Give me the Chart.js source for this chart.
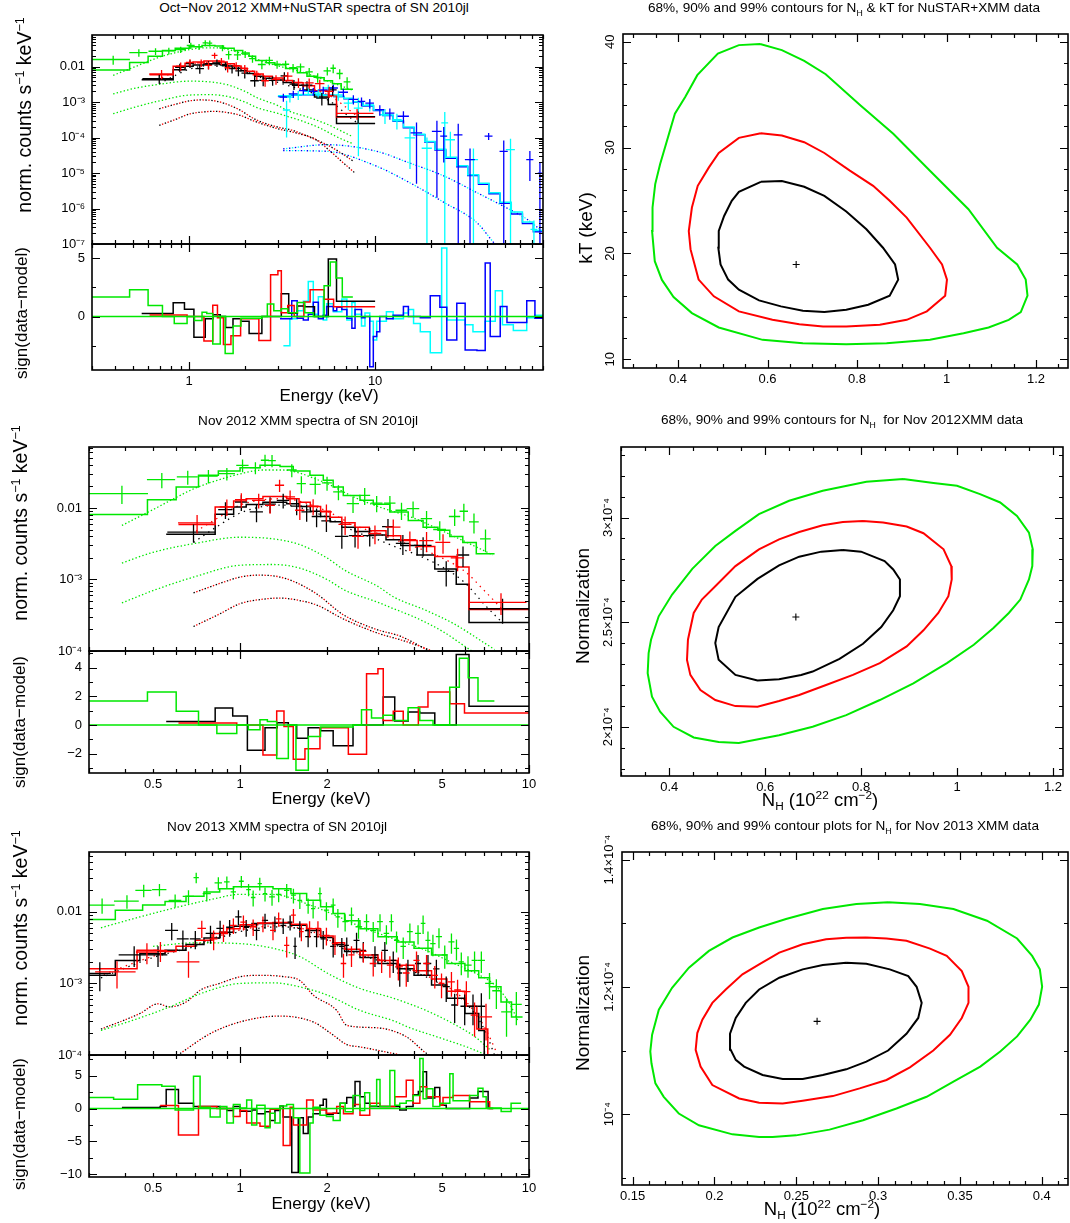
<!DOCTYPE html>
<html>
<head>
<meta charset="utf-8">
<script src="https://cdn.jsdelivr.net/npm/chart.js@4.4.1/dist/chart.umd.min.js"></script>
<style>
  body { margin: 0; background: #fff; width: 1070px; height: 1223px; position: relative; overflow: hidden;
         font-family: "Liberation Sans", Arial, Helvetica, sans-serif; color: #000; }
  canvas { position: absolute; }
  .lbl { position: absolute; white-space: nowrap; line-height: 1; z-index: 5; }
  .lbl sub, .lbl sup { font-size: 64%; line-height: 0; }
</style>
</head>
<body>
<script>
// ---------- colours ----------
const BLACK = '#000000', RED = '#ff0000', GREEN = '#00e800', BLUE = '#0000ff', CYAN = '#00ffff';
const FONT = '"Liberation Sans", Arial, Helvetica, sans-serif';

// ---------- XMM Nov 2012 (used in top and middle spectra) ----------
// data points: [E, halfwidth, counts, error]
const x12Green = [[0.39,0.09,0.0159,0.0045],[0.536,0.06,0.0249,0.006],[0.659,0.055,0.0272,0.006],[0.777,0.06,0.028,0.006],
  [0.90,0.06,0.0302,0.006],[1.02,0.05,0.0395,0.008],[1.13,0.05,0.0366,0.007],[1.22,0.04,0.0465,0.009],[1.29,0.04,0.046,0.009],
  [1.51,0.06,0.034,0.007],[1.63,0.06,0.0219,0.006],[1.82,0.08,0.0214,0.006],[2.0,0.08,0.0224,0.005],[2.19,0.09,0.0168,0.004],
  [2.46,0.12,0.0115,0.003],[2.70,0.12,0.015,0.004],[2.97,0.14,0.0117,0.003],[3.3,0.15,0.0117,0.003],[3.62,0.17,0.0093,0.0025],
  [3.97,0.2,0.0098,0.0025],[4.42,0.2,0.0071,0.002],[4.91,0.25,0.005,0.0015],[5.53,0.25,0.0076,0.002],[5.95,0.2,0.009,0.0025],
  [6.45,0.25,0.0064,0.002],[7.07,0.3,0.0037,0.0013]];
const x12Black = [[0.69,0.13,0.0046,0.0013],[0.89,0.05,0.0095,0.0025],[1.01,0.05,0.0121,0.003],[1.14,0.06,0.0088,0.0025],
  [1.27,0.06,0.0113,0.0028],[1.41,0.07,0.0128,0.003],[1.57,0.07,0.0106,0.0027],[1.70,0.07,0.0088,0.0024],[1.84,0.07,0.0076,0.0022],
  [1.99,0.08,0.0066,0.002],[2.25,0.12,0.004,0.0013],[2.50,0.12,0.0041,0.0013],[2.81,0.15,0.0041,0.0012],[3.25,0.15,0.0055,0.0015],
  [3.66,0.2,0.0032,0.001],[4.30,0.3,0.003,0.0009],[5.17,0.35,0.0013,0.0005],[5.91,0.3,0.0022,0.0007],[8.1,1.9,0.00039,0.00015]];
const x12Red = [[0.71,0.1,0.0062,0.0018],[0.90,0.05,0.0104,0.0027],[1.01,0.05,0.0131,0.003],[1.16,0.06,0.0128,0.003],
  [1.27,0.05,0.0109,0.0026],[1.37,0.05,0.0208,0.004],[1.49,0.06,0.0143,0.0032],[1.61,0.06,0.0093,0.0025],[1.79,0.08,0.0106,0.0027],
  [1.99,0.09,0.0088,0.0024],[2.31,0.12,0.0059,0.0017],[2.56,0.12,0.004,0.0013],[2.93,0.15,0.0044,0.0013],[3.39,0.2,0.0054,0.0015],
  [3.87,0.2,0.0036,0.0011],[4.42,0.25,0.0035,0.0011],[5.04,0.3,0.0033,0.001],[5.66,0.3,0.002,0.0007],[8.0,1.8,0.00048,0.00016]];
// model histograms: [bin start, value] ... [last edge]
const x12GreenModel = [[0.3,0.0081],[0.478,0.013],[0.601,0.0197],[0.718,0.0287],[0.841,0.033],[1.0,0.0366],[1.172,0.0395],
  [1.375,0.038],[1.528,0.033],[1.745,0.0287],[1.941,0.0244],[2.1,0.0197],[2.276,0.015],[2.6,0.0128],[2.89,0.0113],[3.3,0.0088],
  [3.82,0.0067],[4.3,0.0054],[4.84,0.0049],[5.32,0.004],[5.9,0.0033],[6.57,0.0023],[7.6]];
const x12BlackModel = [[0.555,0.0043],[0.82,0.0082],[0.95,0.0103],[1.05,0.0112],[1.2,0.012],[1.45,0.0115],[1.6,0.0105],
  [1.75,0.009],[1.9,0.0076],[2.05,0.0064],[2.25,0.0054],[2.5,0.0047],[2.8,0.0042],[3.2,0.0036],[3.6,0.003],[4.1,0.0022],
  [4.72,0.0014],[5.6,0.00086],[6.2,0.00025],[10]];
const x12RedModel = [[0.612,0.0059],[0.82,0.0103],[0.95,0.0125],[1.05,0.0135],[1.2,0.0145],[1.45,0.0135],[1.6,0.012],
  [1.75,0.0105],[1.9,0.009],[2.05,0.0074],[2.25,0.0062],[2.5,0.0054],[2.8,0.0048],[3.2,0.0041],[3.6,0.0035],[4.1,0.0029],
  [4.72,0.0021],[5.6,0.0015],[6.2,0.00038],[10]];
// model components: [E, value]
const x12GreenComp1 = [[0.39,0.0057],[0.5,0.0095],[0.6,0.014],[0.7,0.019],[0.85,0.025],[1.0,0.030],[1.2,0.034],[1.4,0.034],
  [1.6,0.031],[1.8,0.026],[2.0,0.022],[2.5,0.014],[3.0,0.0105],[4.0,0.0072],[5.0,0.0048],[6.0,0.0034],[7.5,0.0022]];
const x12GreenComp2 = [[0.39,0.0017],[0.5,0.0024],[0.7,0.0032],[1.0,0.0039],[1.3,0.0037],[1.6,0.0031],[2.0,0.002],[2.3,0.00135],
  [3.0,0.0008],[3.4,0.00057],[4.4,0.00037],[5.5,0.00024],[7.0,0.00013],[7.6,0.000105]];
const x12GreenComp3 = [[0.39,0.00047],[0.5,0.0007],[0.7,0.0011],[1.0,0.00158],[1.3,0.00162],[1.6,0.00145],[2.0,0.001],
  [2.3,0.00071],[3.0,0.00048],[3.4,0.00039],[4.0,0.0003],[5.0,0.00019],[6.4,0.000098],[7.6,0.000067]];
const x12BlackMain = [[0.69,0.0033],[0.85,0.0058],[1.0,0.0085],[1.2,0.0105],[1.4,0.011],[1.6,0.0102],[2.0,0.0074],[2.5,0.0047],
  [3.0,0.0036],[3.5,0.0028],[4.0,0.0023],[5.0,0.0015],[6.0,0.0009],[7.0,0.00045],[8.0,0.00026]];
const x12RedMain = [[0.69,0.0045],[0.85,0.0075],[1.0,0.011],[1.2,0.013],[1.4,0.0135],[1.6,0.0125],[2.0,0.009],[2.5,0.0057],
  [3.0,0.0044],[3.5,0.0035],[4.0,0.0029],[5.0,0.002],[6.0,0.0013],[7.0,0.0007],[8.0,0.0004]];
const x12CompHot = [[0.69,0.00065],[0.85,0.00088],[1.0,0.00108],[1.15,0.00115],[1.35,0.0011],[1.55,0.00092],[1.84,0.00063],
  [2.28,0.00032],[2.97,0.0002],[3.6,0.00016],[4.5,0.0001],[5.5,0.000063],[6.5,0.000038],[7.6,0.000022]];
const x12CompCool = [[0.69,0.00022],[0.85,0.00033],[1.0,0.00046],[1.2,0.00053],[1.37,0.00055],[1.6,0.00051],[1.84,0.00044],
  [2.28,0.00028],[2.97,0.00018],[3.87,0.00013],[4.78,0.00009],[5.5,0.00005],[6.5,0.000023],[7.8,0.00001]];
// residual histograms: [bin start, sign(data-model)] ... [last edge]
const r12Green = [[0.3,1.67],[0.478,2.3],[0.601,0.95],[0.718,0],[0.831,-0.6],[0.974,0],[1.068,-0.33],[1.172,0.37],[1.243,0.25],
  [1.339,-2.34],[1.469,0],[1.561,-3.15],[1.723,-0.8],[1.899,-0.14],[2.463,0],[2.632,1.07],[2.851,0.49],[3.127,0.67],[3.387,0.32],
  [3.816,1.2],[4.187,0.32],[4.655,0],[5.316,2.64],[5.74,4.66],[6.16,3.3],[6.66,1.67],[7.59]];
const r12Black = [[0.555,0.25],[0.82,1.18],[0.943,0.63],[1.06,-1.76],[1.22,-0.2],[1.345,0.15],[1.469,0],[1.57,-0.93],[1.72,-0.2],
  [1.9,-0.4],[2.1,-1.45],[2.46,0],[3.13,1.95],[3.43,0.28],[3.82,0.9],[4.19,0.84],[4.72,0],[5.6,4.92],[6.2,1.3],[10]];
const r12Red = [[0.612,0.14],[0.974,0],[1.2,-2.1],[1.339,0.97],[1.419,-0.1],[1.528,-2.39],[1.677,-1.65],[1.89,-0.2],[2.37,-2.04],
  [2.74,3.57],[3.0,3.92],[3.13,0.32],[3.39,0.95],[3.67,0],[4.14,1.25],[4.47,2.3],[5.32,1.48],[5.98,0.84],[10]];

// ---------- NuSTAR Oct 2012 ----------
const nuBlue = [[3.21,0.15,0.00138,0.00035],[3.63,0.2,0.0017,0.0004],[4.11,0.22,0.0021,0.0005],[4.65,0.25,0.002,0.0005],
  [5.26,0.3,0.0022,0.0005],[5.96,0.35,0.0025,0.0006],[6.75,0.4,0.0019,0.0005],[7.64,0.45,0.0012,0.00035],[8.45,0.4,0.00105,0.0003],
  [9.36,0.5,0.00094,0.00028],[10.6,0.6,0.00061,0.0002],[12.0,0.7,0.00049,0.00017],[14.2,1.0,0.0004,0.00015],[16.7,1.2,0.000135,0.00013],
  [21.5,1.3,0.00015,0.000148],[23.4,1.0,0.00011,0.00009],[28.0,1.5,0.00012,0.000125],[32.4,2.0,0.000024,0.000025],
  [40.8,2.0,0.00011,0.000025],[49.2,2.5,0.000041,0.000042],[68,3,0.000024,0.000018],[77,2,0.00001,0.0000105]];
const nuCyan = [[3.34,0.15,0.0006,0.0005],[3.48,0.15,0.00138,0.0004],[3.86,0.2,0.0016,0.00045],[4.37,0.25,0.002,0.0005],
  [4.94,0.3,0.0018,0.0005],[5.6,0.3,0.0025,0.0006],[6.34,0.35,0.0016,0.0005],[7.18,0.4,0.00094,0.00035],[8.13,0.45,0.00068,0.00065],
  [9.36,0.5,0.00084,0.0003],[11.3,0.7,0.00044,0.0002],[13.1,0.8,0.00032,0.00015],[15.4,1.0,0.000098,0.000085],
  [19.0,1.2,0.00005,0.000051],[23.7,1.0,0.00026,0.00027],[25.4,1.5,0.000087,0.00006],[33.8,2.0,0.000024,0.000025],
  [53.5,3.0,0.000046,0.000047],[71.5,3.0,0.00000026,0.0000002]];
const nuBlueModel = [[3,1.45e-3],[3.5,1.55e-3],[4,1.6e-3],[4.6,1.6e-3],[5.3,1.55e-3],[6,1.45e-3],[6.8,1.25e-3],[7.6,1.0e-3],
  [8.6,7.8e-4],[9.8,5.8e-4],[11,4.2e-4],[12.5,2.9e-4],[14.2,1.9e-4],[16.2,1.2e-4],[18.5,7.5e-5],[21,4.5e-5],[24,2.6e-5],
  [27.5,1.5e-5],[31.5,8.5e-6],[36,4.8e-6],[41,2.6e-6],[47,1.4e-6],[54,7e-7],[62,3.8e-7],[71,2.2e-7],[79]];
const nuCyanModel = [[3,1.5e-3],[3.5,1.6e-3],[4,1.65e-3],[4.6,1.62e-3],[5.3,1.55e-3],[6,1.45e-3],[6.8,1.28e-3],[7.6,1.02e-3],
  [8.6,8e-4],[9.8,6e-4],[11,4.3e-4],[12.5,3e-4],[14.2,2e-4],[16.2,1.25e-4],[18.5,7.8e-5],[21,4.7e-5],[24,2.8e-5],
  [27.5,1.6e-5],[31.5,9e-6],[36,5.2e-6],[41,2.8e-6],[47,1.5e-6],[54,8e-7],[62,4.2e-7],[71,2.4e-7],[79]];
const nuCompA = [[3.2,4.8e-5],[5.5,6.3e-5],[10.2,4.1e-5],[15.4,1.9e-5],[23.4,8.3e-6],[35.3,2.8e-6],[50,1.1e-6],[65.6,5e-7],[79,2.3e-7]];
const nuCompB = [[3.2,4.3e-5],[5.5,4.1e-5],[10.2,1.55e-5],[15.4,5.3e-6],[23.4,1.5e-6],[35.3,4e-7],[43.4,1.1e-7],[50,5e-8]];
const rNuBlue = [[3.08,-0.2],[3.56,1.34],[3.81,-0.15],[4.11,-0.3],[4.37,0.2],[4.65,1.23],[4.95,-0.2],[5.26,0.1],[5.49,0.86],
  [5.96,0.5],[6.22,0.8],[6.62,0.6],[7.05,-0.15],[7.5,-1.0],[7.8,0.6],[8.45,-0.1],[8.82,0],[9.36,-4.3],[9.78,-1.7],[10.2,-1.3],
  [10.6,0],[11.5,-0.2],[12.5,0.1],[14.2,0.86],[15.1,0],[17.5,-0.1],[19.8,1.77],[22.3,0.8],[24.3,-2.0],[27.5,1.14],[30.5,-2.86],
  [35.3,-2.91],[39.1,4.57],[41.6,-1.7],[47.1,0.86],[51.2,-0.5],[55.4,-0.5],[65.4,1.34],[72.4,-0.15],[80]];
const rNuCyan = [[3.21,-2.5],[3.48,-0.2],[3.81,0.5],[4.11,1.3],[4.37,3.0],[4.65,0.2],[4.95,1.7],[5.26,-0.3],[5.49,1.1],[5.96,0.4],
  [6.62,1.5],[7.05,-0.3],[7.5,1.2],[7.8,0.2],[8.45,-0.8],[8.82,0.3],[9.36,-0.4],[9.78,-2.0],[10.2,-0.4],[11.5,0.4],[12.5,-0.2],
  [14.2,0.3],[15.1,0.6],[16.1,-0.6],[17.5,-1.3],[19.8,-3.1],[22.8,5.86],[24.3,-0.3],[30.5,-0.7],[33.6,-1.3],[39,-0.4],[44.3,2.2],
  [48.4,-0.7],[55.4,-1.2],[65.4,-0.1],[72.4,0.1],[80]];

// ---------- XMM Nov 2013 ----------
const x13Green = [[0.333,0.035,0.0124,0.003],[0.406,0.04,0.0141,0.003],[0.464,0.03,0.02,0.004],[0.526,0.03,0.0205,0.004],
  [0.596,0.03,0.0145,0.003],[0.663,0.03,0.0165,0.0035],[0.705,0.015,0.0301,0.005],[0.767,0.025,0.018,0.004],[0.841,0.025,0.0254,0.005],
  [0.90,0.02,0.0262,0.005],[0.948,0.02,0.019,0.004],[1.01,0.02,0.0268,0.005],[1.07,0.02,0.0205,0.004],[1.11,0.02,0.0159,0.004],
  [1.17,0.02,0.0249,0.005],[1.22,0.02,0.018,0.004],[1.29,0.03,0.0162,0.004],[1.36,0.03,0.0176,0.004],[1.45,0.03,0.02,0.0045],
  [1.53,0.03,0.0171,0.004],[1.61,0.03,0.0145,0.0035],[1.72,0.03,0.0124,0.003],[1.79,0.03,0.0111,0.003],[1.89,0.03,0.018,0.004],
  [1.99,0.04,0.0106,0.003],[2.10,0.04,0.0124,0.003],[2.18,0.04,0.0085,0.0025],[2.31,0.05,0.0073,0.002],[2.43,0.05,0.009,0.0025],
  [2.57,0.06,0.0062,0.002],[2.74,0.06,0.0073,0.002],[2.89,0.07,0.0055,0.0017],[3.05,0.07,0.0073,0.002],[3.21,0.07,0.005,0.0015],
  [3.34,0.06,0.0073,0.002],[3.48,0.07,0.004,0.0013],[3.67,0.08,0.0033,0.0011],[3.87,0.09,0.0053,0.0016],[4.13,0.1,0.005,0.0015],
  [4.30,0.08,0.0069,0.002],[4.47,0.09,0.004,0.0013],[4.65,0.1,0.0036,0.0012],[4.88,0.12,0.0045,0.0014],[5.11,0.12,0.0025,0.0009],
  [5.39,0.13,0.0038,0.0012],[5.61,0.12,0.0031,0.001],[5.83,0.12,0.002,0.0007],[6.15,0.18,0.0018,0.0006],[6.48,0.15,0.0021,0.0007],
  [6.84,0.2,0.0021,0.0007],[7.30,0.25,0.001,0.0004],[7.71,0.25,0.00079,0.00035],[8.36,0.35,0.0004,0.00022],[9.04,0.4,0.00051,0.00025]];
const x13Black = [[0.327,0.03,0.00138,0.0006],[0.43,0.05,0.0025,0.0008],[0.52,0.04,0.0025,0.0008],[0.58,0.03,0.0055,0.0015],
  [0.634,0.03,0.0042,0.0013],[0.70,0.03,0.0042,0.0012],[0.79,0.03,0.005,0.0014],[0.853,0.025,0.0059,0.0016],[0.92,0.025,0.0061,0.0016],
  [0.987,0.025,0.0085,0.002],[1.05,0.025,0.0061,0.0016],[1.14,0.03,0.0055,0.0015],[1.22,0.03,0.0076,0.0018],[1.32,0.03,0.0069,0.0017],
  [1.41,0.03,0.0065,0.0016],[1.49,0.03,0.0072,0.0017],[1.55,0.02,0.0033,0.0011],[1.61,0.03,0.0059,0.0015],[1.72,0.04,0.0045,0.0013],
  [1.84,0.04,0.0045,0.0013],[1.94,0.04,0.0042,0.0012],[2.10,0.05,0.0033,0.001],[2.25,0.05,0.0033,0.001],[2.34,0.04,0.0034,0.001],
  [2.53,0.06,0.004,0.0011],[2.67,0.06,0.0029,0.0009],[2.93,0.08,0.0025,0.0008],[3.17,0.08,0.0029,0.0009],[3.39,0.08,0.0021,0.0007],
  [3.57,0.07,0.0014,0.0005],[3.81,0.09,0.0016,0.00055],[4.13,0.1,0.0019,0.0006],[4.47,0.12,0.0019,0.0006],[4.78,0.12,0.0016,0.00055],
  [5.17,0.15,0.0009,0.00035],[5.53,0.15,0.0005,0.00022],[5.99,0.2,0.00048,0.00022],[6.4,0.2,0.00048,0.00022],[6.84,0.22,0.00048,0.00025]];
const x13Red = [[0.375,0.06,0.00145,0.0006],[0.476,0.04,0.00275,0.0009],[0.53,0.03,0.0029,0.0009],[0.663,0.06,0.002,0.0008],
  [0.737,0.025,0.0059,0.0016],[0.81,0.025,0.0042,0.0013],[0.876,0.025,0.0052,0.0014],[0.948,0.025,0.0065,0.0016],[1.027,0.025,0.0072,0.0017],
  [1.11,0.03,0.0062,0.0016],[1.20,0.03,0.0069,0.0017],[1.30,0.03,0.0055,0.0015],[1.36,0.03,0.008,0.0018],[1.45,0.03,0.0034,0.0011],
  [1.53,0.03,0.009,0.002],[1.63,0.03,0.0053,0.0014],[1.74,0.04,0.0059,0.0015],[1.86,0.04,0.0059,0.0015],[1.99,0.05,0.0047,0.0013],
  [2.13,0.05,0.0036,0.0011],[2.28,0.05,0.0019,0.0007],[2.43,0.06,0.0025,0.0008],[2.67,0.07,0.0028,0.00085],[2.89,0.08,0.0019,0.00065],
  [3.09,0.08,0.0021,0.0007],[3.3,0.08,0.0018,0.0006],[3.53,0.09,0.0017,0.0006],[3.76,0.1,0.0014,0.0005],[4.08,0.1,0.0021,0.0007],
  [4.42,0.12,0.0019,0.0006],[4.72,0.12,0.0013,0.00045],[4.98,0.12,0.001,0.00038],[5.39,0.15,0.00105,0.0004],[5.66,0.15,0.00081,0.00032],
  [6.07,0.2,0.00077,0.0003],[6.48,0.2,0.00036,0.00018],[7.1,0.35,0.00034,0.00018]];
const x13GreenModel = [[0.3,0.0078],[0.37,0.0105],[0.46,0.0125],[0.55,0.014],[0.65,0.0165],[0.75,0.019],[0.85,0.021],[0.95,0.0225],
  [1.1,0.0225],[1.3,0.021],[1.5,0.018],[1.7,0.0145],[1.9,0.0118],[2.1,0.0095],[2.3,0.0075],[2.6,0.0058],[3.0,0.0045],[3.5,0.0038],
  [4.0,0.0031],[4.6,0.0025],[5.2,0.0019],[6.0,0.0015],[6.7,0.0012],[7.3,0.0009],[8.0,0.00055],[8.7,0.00034],[9.5]];
const x13BlackModel = [[0.3,0.0013],[0.37,0.0021],[0.45,0.0026],[0.55,0.0029],[0.65,0.0035],[0.75,0.0043],[0.85,0.0052],[0.95,0.0063],
  [1.1,0.0069],[1.3,0.007],[1.5,0.0065],[1.7,0.0055],[1.9,0.0044],[2.1,0.0035],[2.3,0.0028],[2.6,0.0023],[3.0,0.0019],[3.5,0.0016],
  [4.0,0.0013],[4.6,0.00095],[5.2,0.00062],[6.0,0.00038],[6.7,0.00022],[7.0,0.00008],[7.3]];
const x13RedModel = [[0.3,0.0016],[0.44,0.0029],[0.52,0.0028],[0.6,0.0033],[0.7,0.004],[0.8,0.005],[0.9,0.0058],[1.0,0.0066],
  [1.15,0.007],[1.3,0.0071],[1.5,0.0067],[1.7,0.0058],[1.9,0.0046],[2.1,0.0037],[2.3,0.003],[2.6,0.0025],[3.0,0.0021],[3.5,0.0018],
  [4.0,0.0015],[4.6,0.00115],[5.2,0.00078],[6.0,0.00048],[6.6,0.00023],[7.2,0.00008],[7.6]];
const x13GreenComp1 = [[0.33,0.006],[0.45,0.0085],[0.6,0.0115],[0.8,0.015],[1.0,0.0176],[1.3,0.0175],[1.79,0.012],[2.2,0.0085],
  [2.6,0.0063],[3.4,0.0042],[4.4,0.0029],[5.5,0.0019],[6.5,0.0014],[7.5,0.001],[8.5,0.00055],[9.2,0.00029]];
const x13GreenComp2 = [[0.5,0.0033],[0.7,0.0037],[1.0,0.0036],[1.3,0.0031],[1.6,0.0024],[2.0,0.0014],[2.3,0.00105],[2.6,0.00085],
  [3.4,0.00062],[4.4,0.00042],[5.5,0.00027],[6.5,0.00018],[7.3,0.00012]];
const x13GreenComp3 = [[0.33,0.00022],[0.45,0.00033],[0.57,0.00047],[0.75,0.00075],[1.0,0.001],[1.3,0.00102],[1.6,0.0009],[2.0,0.00069],
  [2.6,0.00042],[3.4,0.0003],[3.87,0.00024],[5.0,0.00017],[6.4,0.00012],[7.5,0.00009]];
const x13BlackMain = [[0.33,0.0012],[0.5,0.0023],[0.7,0.0033],[1.0,0.0053],[1.4,0.0062],[1.8,0.005],[2.3,0.003],[3.0,0.0021],
  [4.0,0.00145],[5.0,0.00095],[6.0,0.00055],[7.0,0.00023],[7.6,0.0001]];
const x13RedMain = [[0.33,0.0013],[0.5,0.0024],[0.7,0.0035],[1.0,0.0056],[1.4,0.0064],[1.8,0.0052],[2.3,0.0031],[3.0,0.0022],
  [4.0,0.0015],[5.0,0.001],[6.0,0.00058],[7.0,0.00025],[7.8,0.0001]];
const x13CompHot = [[0.33,0.00023],[0.45,0.00038],[0.52,0.00052],[0.57,0.00047],[0.65,0.00055],[0.73,0.00081],[0.85,0.001],
  [1.0,0.00124],[1.17,0.0013],[1.4,0.00125],[1.61,0.0011],[1.79,0.00069],[2.16,0.00042],[2.34,0.00026],[2.97,0.00024],
  [3.76,0.00018],[4.42,0.000105],[5.0,0.00008]];
const x13CompCool = [[0.62,0.000105],[0.79,0.0002],[1.0,0.00029],[1.37,0.00035],[1.79,0.00029],[2.1,0.00019],[2.34,0.00014],
  [2.6,0.00013],[3.39,0.000105],[4.42,0.000085]];
const r13Green = [[0.3,1.7],[0.365,1.4],[0.442,3.6],[0.536,3.4],[0.596,-0.2],[0.69,4.9],[0.727,0.2],[0.788,-1.3],[0.853,0.3],
  [0.9,-2.2],[0.948,0.6],[1.0,0.1],[1.054,1.3],[1.097,-2.5],[1.142,0.5],[1.22,-2.9],[1.27,-0.7],[1.32,-2.2],[1.375,0.4],[1.45,0.6],
  [1.53,-1.4],[1.61,-9.8],[1.745,-2.2],[1.79,0.2],[1.89,-1.0],[1.99,-1.2],[2.1,-1.8],[2.22,0.8],[2.31,-0.5],[2.46,2.0],[2.6,-0.3],
  [2.7,2.4],[2.81,0.4],[2.97,4.4],[3.05,0.3],[3.3,5.8],[3.43,0.5],[3.57,0.8],[3.76,1.2],[3.97,2.0],[4.19,7.6],[4.3,1.5],[4.42,3.0],
  [4.65,0.3],[4.91,0.8],[5.32,5.3],[5.46,1.2],[6.23,2.0],[6.66,3.1],[6.93,1.8],[7.11,0.1],[8.01,-0.45],[8.67,0.8],[9.39]];
const r13Black = [[0.39,0.15],[0.529,0.3],[0.555,2.9],[0.612,0.8],[0.69,0.3],[0.853,0],[0.9,-0.3],[0.948,0.3],[1.0,-0.4],
  [1.097,-0.2],[1.142,-0.8],[1.22,-0.5],[1.27,-1.8],[1.32,-0.3],[1.375,0.4],[1.41,-1.3],[1.51,-9.7],[1.59,-1.4],[1.655,-3.8],
  [1.72,-1.3],[1.79,-0.8],[1.89,0.5],[1.94,1.4],[1.99,-0.9],[2.1,-0.7],[2.22,0.8],[2.34,1.7],[2.46,0.4],[2.5,4.1],[2.6,1.8],
  [2.7,0.8],[2.81,0.3],[3.57,-0.2],[3.76,0.3],[3.97,2.1],[4.14,2.6],[4.3,5.6],[4.42,1.6],[4.72,3.2],[4.91,0.5],[5.17,0],
  [6.23,1.6],[6.66,2.6],[7.22,0],[7.52]];
const r13Red = [[0.529,0.45],[0.612,-4.0],[0.718,0.3],[0.831,0],[0.948,-1.2],[1.0,-0.3],[1.054,-2.2],[1.172,-2.7],[1.27,-0.1],
  [1.375,0],[1.41,-5.6],[1.49,0.2],[1.53,-2.5],[1.7,1.3],[1.79,-0.2],[1.99,-0.7],[2.16,0.3],[2.28,-0.8],[2.46,0.6],[2.6,-1.0],
  [2.81,0.8],[3.05,0.3],[3.43,1.8],[3.76,4.3],[3.97,0.8],[4.19,3.3],[4.42,1.8],[4.91,0.5],[5.04,1.7],[5.46,2.0],[6.23,1.05],
  [7.31,0],[7.52]];

// ---------- confidence contours: [NH, parameter] ----------
const c1Green = [[0.5835,39.78],[0.632,39.21],[0.682,38.2],[0.73,36.93],[0.806,34.05],[0.881,31.3],[0.963,27.82],[1.049,24.18],
  [1.113,20.54],[1.158,18.96],[1.177,17.53],[1.181,16.01],[1.166,14.46],[1.139,13.73],[1.094,13.01],[1.038,12.47],[0.963,11.84],
  [0.866,11.52],[0.776,11.42],[0.679,11.52],[0.589,11.84],[0.491,13.01],[0.431,14.37],[0.39,15.89],[0.364,17.5],[0.348,19.27],
  [0.342,22.12],[0.343,24.34],[0.349,26.55],[0.36,28.45],[0.393,33.2],[0.416,34.78],[0.443,36.84],[0.489,38.89],[0.536,39.68]];
const c1Red = [[0.585,31.36],[0.632,31.14],[0.682,30.51],[0.727,29.49],[0.784,27.82],[0.836,26.39],[0.873,24.97],[0.911,23.39],
  [0.963,20.54],[0.99,18.96],[1.001,17.53],[0.997,16.01],[0.956,14.53],[0.911,13.73],[0.851,13.26],[0.776,13.1],[0.724,13.1],
  [0.671,13.32],[0.611,13.73],[0.536,14.53],[0.48,15.95],[0.446,17.53],[0.428,20.38],[0.424,22.12],[0.431,24.34],[0.444,26.39],
  [0.469,28.13],[0.491,29.49],[0.536,30.92]];
const c1Black = [[0.585,26.77],[0.632,26.84],[0.682,26.3],[0.727,25.44],[0.776,23.96],[0.821,22.28],[0.858,20.54],[0.885,18.96],
  [0.892,17.53],[0.873,16.01],[0.825,15.16],[0.776,14.68],[0.727,14.46],[0.679,14.59],[0.63,15.0],[0.581,15.57],[0.536,16.58],
  [0.512,17.53],[0.495,18.96],[0.49,20.54],[0.491,22.12],[0.503,23.54],[0.52,24.97],[0.536,25.82]];
const c1Best = [[0.664, 18.96]];

const c2Green = [[0.888,3.184e-4],[0.951,3.165e-4],[1.0,3.152e-4],[1.048,3.112e-4],[1.09,3.072e-4],[1.125,3.008e-4],[1.15,2.928e-4],
  [1.158,2.848e-4],[1.157,2.768e-4],[1.15,2.704e-4],[1.132,2.608e-4],[1.108,2.544e-4],[1.076,2.472e-4],[1.035,2.392e-4],
  [0.979,2.304e-4],[0.909,2.208e-4],[0.839,2.128e-4],[0.769,2.056e-4],[0.699,2.0e-4],[0.629,1.96e-4],[0.545,1.923e-4],
  [0.503,1.928e-4],[0.451,1.949e-4],[0.409,2.0e-4],[0.381,2.072e-4],[0.364,2.144e-4],[0.355,2.256e-4],[0.357,2.352e-4],
  [0.362,2.416e-4],[0.378,2.528e-4],[0.406,2.632e-4],[0.448,2.755e-4],[0.496,2.864e-4],[0.538,2.936e-4],[0.587,3.016e-4],
  [0.65,3.08e-4],[0.72,3.128e-4],[0.811,3.171e-4]];
const c2Red = [[0.804,2.984e-4],[0.846,2.976e-4],[0.895,2.957e-4],[0.93,2.925e-4],[0.972,2.848e-4],[0.988,2.768e-4],[0.989,2.704e-4],
  [0.982,2.624e-4],[0.961,2.544e-4],[0.93,2.461e-4],[0.895,2.384e-4],[0.839,2.304e-4],[0.783,2.248e-4],[0.727,2.2e-4],
  [0.671,2.152e-4],[0.629,2.123e-4],[0.584,2.096e-4],[0.538,2.099e-4],[0.496,2.128e-4],[0.465,2.176e-4],[0.444,2.248e-4],
  [0.437,2.32e-4],[0.439,2.416e-4],[0.451,2.544e-4],[0.468,2.608e-4],[0.496,2.672e-4],[0.538,2.768e-4],[0.587,2.848e-4],
  [0.629,2.896e-4],[0.671,2.931e-4],[0.72,2.963e-4],[0.762,2.979e-4]];
const c2Black = [[0.762,2.845e-4],[0.8,2.837e-4],[0.849,2.792e-4],[0.867,2.752e-4],[0.881,2.704e-4],[0.881,2.624e-4],[0.867,2.557e-4],
  [0.842,2.477e-4],[0.804,2.397e-4],[0.755,2.325e-4],[0.699,2.264e-4],[0.675,2.248e-4],[0.629,2.227e-4],[0.584,2.221e-4],
  [0.538,2.248e-4],[0.503,2.32e-4],[0.496,2.4e-4],[0.503,2.477e-4],[0.538,2.621e-4],[0.584,2.707e-4],[0.629,2.771e-4],
  [0.671,2.813e-4],[0.717,2.837e-4]];
const c2Best = [[0.664, 2.525e-4]];

const c3Green = [[0.3061,1.3331e-4],[0.3255,1.3304e-4],[0.346,1.3225e-4],[0.3665,1.3041e-4],[0.3849,1.2762e-4],[0.3941,1.2488e-4],
  [0.3988,1.2277e-4],[0.4002,1.2003e-4],[0.3982,1.1723e-4],[0.393,1.1486e-4],[0.3849,1.1223e-4],[0.3746,1.0986e-4],
  [0.3624,1.0748e-4],[0.346,1.0511e-4],[0.3296,1.0274e-4],[0.3112,1.009e-4],[0.2908,0.9905e-4],[0.2703,0.9758e-4],
  [0.2498,0.9668e-4],[0.2355,0.9642e-4],[0.2273,0.9642e-4],[0.211,0.9684e-4],[0.1905,0.9826e-4],[0.1782,1.0011e-4],
  [0.169,1.0274e-4],[0.1639,1.0485e-4],[0.1615,1.0801e-4],[0.1608,1.0986e-4],[0.1619,1.1249e-4],[0.166,1.1644e-4],
  [0.1741,1.1987e-4],[0.1844,1.2303e-4],[0.1966,1.2567e-4],[0.211,1.2777e-4],[0.2273,1.2935e-4],[0.2437,1.3067e-4],
  [0.2662,1.3225e-4],[0.2867,1.3304e-4]];
const c3Red = [[0.2928,1.2777e-4],[0.3051,1.2762e-4],[0.3173,1.2725e-4],[0.3317,1.2603e-4],[0.3419,1.2488e-4],[0.3511,1.225e-4],
  [0.3552,1.2003e-4],[0.3552,1.175e-4],[0.3511,1.1513e-4],[0.3439,1.1249e-4],[0.3337,1.1001e-4],[0.3194,1.0738e-4],
  [0.3051,1.0538e-4],[0.2887,1.0406e-4],[0.2723,1.0285e-4],[0.2539,1.0211e-4],[0.2417,1.0169e-4],[0.2273,1.0179e-4],
  [0.2151,1.0248e-4],[0.1987,1.0459e-4],[0.1915,1.0748e-4],[0.1885,1.1012e-4],[0.1895,1.1275e-4],[0.1926,1.1486e-4],
  [0.1987,1.175e-4],[0.2069,1.1961e-4],[0.2171,1.2198e-4],[0.2273,1.2356e-4],[0.2396,1.254e-4],[0.2539,1.2672e-4],
  [0.2682,1.2751e-4],[0.2805,1.2772e-4]];
const c3Black = [[0.2805,1.2382e-4],[0.2928,1.2366e-4],[0.3071,1.2277e-4],[0.3184,1.2171e-4],[0.3235,1.2003e-4],[0.3266,1.175e-4],
  [0.3245,1.1513e-4],[0.3173,1.1265e-4],[0.3061,1.1001e-4],[0.2928,1.0827e-4],[0.2805,1.0706e-4],[0.2662,1.0617e-4],
  [0.2539,1.0553e-4],[0.2417,1.0553e-4],[0.2294,1.0617e-4],[0.2181,1.0748e-4],[0.213,1.0854e-4],[0.2099,1.1012e-4],
  [0.2095,1.1265e-4],[0.213,1.1513e-4],[0.2191,1.175e-4],[0.2273,1.1961e-4],[0.2396,1.2145e-4],[0.2539,1.2277e-4],
  [0.2662,1.2345e-4]];
const c3Best = [[0.2627, 1.146e-4]];

// ---------- tick labels ----------
const specTopX = [1, 10];
const specX = [0.5, 1, 2, 5, 10];
const spec1Y = [0.01, 1e-3, 1e-4, 1e-5, 1e-6, 1e-7];
const spec23Y = [0.01, 1e-3, 1e-4];
const res1Y = [0, 5];
const res2Y = [-2, 0, 2, 4];
const res3Y = [-10, -5, 0, 5];
const c1XLabels = [0.4, 0.6, 0.8, 1, 1.2], c1YLabels = [10, 20, 30, 40];
const c2XLabels = [0.4, 0.6, 0.8, 1, 1.2], c2YLabels = [2e-4, 2.5e-4, 3e-4];
const c3XLabels = [0.15, 0.2, 0.25, 0.3, 0.35, 0.4], c3YLabels = [1e-4, 1.2e-4, 1.4e-4];

// ---------- helpers ----------
Chart.defaults.font.family = FONT;
Chart.defaults.color = '#000';

const near = (a, b) => Math.abs(a - b) <= 1e-6 * Math.max(Math.abs(a), Math.abs(b), 1e-30);
const has = (list, v) => list.some(l => near(l, v));
const SUP = {'-': '⁻', '0': '⁰', '1': '¹', '2': '²', '3': '³', '4': '⁴', '5': '⁵', '6': '⁶', '7': '⁷', '8': '⁸', '9': '⁹'};
const sup = s => String(s).split('').map(c => SUP[c]).join('');
const fmtPow = v => near(v, 0.01) ? '0.01' : '10' + sup(Math.round(Math.log10(v)));
const fmtNum = v => String(+v.toPrecision(6));
const fmtRes = v => v < 0 ? '\u2212' + Math.abs(v) : String(v);
const fmtNorm = v => { const m = +(v / 1e-4).toFixed(2); return m === 1 ? '10' + sup(-4) : m + '×10' + sup(-4); };

function logTicks(min, max) {
  const out = [];
  for (let e = Math.floor(Math.log10(min)); e <= Math.ceil(Math.log10(max)); e++) {
    for (let m = 1; m <= 9; m++) {
      const v = +(m * Math.pow(10, e)).toPrecision(6);
      if (v >= min * (1 - 1e-9) && v <= max * (1 + 1e-9)) out.push({value: v, big: m === 1});
    }
  }
  return out;
}
function linTicks(min, max, step, labels) {
  const out = [];
  for (let k = Math.ceil(min / step - 1e-6); k * step <= max + 1e-9 * Math.abs(step); k++) {
    const v = +(k * step).toPrecision(10);
    out.push({value: v, big: has(labels, v)});
  }
  return out;
}

function crosses(points) {
  const out = [];
  points.forEach(([e, de, y, dy]) => {
    out.push({x: e - de, y}, {x: e + de, y}, {x: e, y: null});
    out.push({x: e, y: Math.max(y - dy, 1e-12)}, {x: e, y: y + dy}, {x: e, y: null});
  });
  return out;
}
function steps(pairs) {
  let last = null;
  return pairs.map(p => { if (p.length > 1) last = p[1]; return {x: p[0], y: last}; });
}
const curve = pairs => pairs.map(p => ({x: p[0], y: p[1]}));
const closed = pairs => { const c = curve(pairs); c.push(c[0]); return c; };

const ds = (data, color, o = {}) => Object.assign({data, borderColor: color, backgroundColor: color, borderWidth: 1.3,
  pointRadius: 0, fill: false, tension: 0, spanGaps: false}, o);
const errs = (pts, color) => ds(crosses(pts), color, {borderWidth: 1.3});
const hist = (pairs, color) => ds(steps(pairs), color, {stepped: 'before', borderWidth: 1.5});
const dots = (pairs, color, gap = 2.2, off = 0) => ds(curve(pairs), color, {borderWidth: 1.3, borderDash: [1.4, gap],
  borderDashOffset: off, cubicInterpolationMode: 'monotone'});
const ring = (pairs, color) => ds(closed(pairs), color, {borderWidth: 2});
const mark = pairs => ds(curve(pairs), BLACK, {showLine: false, pointRadius: 3.5, pointStyle: 'cross', pointBorderWidth: 1.1});

// frame with inward ticks on all four sides
const frame = {
  id: 'frame',
  afterDraw(chart) {
    const {ctx, chartArea: a, scales: {x, y}} = chart;
    ctx.save();
    ctx.strokeStyle = '#000';
    ctx.lineWidth = 1.2;
    ctx.beginPath();
    x.ticks.forEach(t => {
      const p = Math.round(x.getPixelForValue(t.value)) + 0.5, L = t.big ? 8 : 4;
      ctx.moveTo(p, a.bottom); ctx.lineTo(p, a.bottom - L);
      ctx.moveTo(p, a.top); ctx.lineTo(p, a.top + L);
    });
    y.ticks.forEach(t => {
      const p = Math.round(y.getPixelForValue(t.value)) + 0.5, L = t.big ? 8 : 4;
      ctx.moveTo(a.left, p); ctx.lineTo(a.left + L, p);
      ctx.moveTo(a.right, p); ctx.lineTo(a.right - L, p);
    });
    ctx.stroke();
    ctx.lineWidth = 1.6;
    ctx.strokeRect(a.left, a.top, a.right - a.left, a.bottom - a.top);
    ctx.restore();
  }
};

const tickFont = {size: 13};
function logAxis(pos, min, max, labels, fmt, show, pad) {
  return {type: 'logarithmic', position: pos, min, max, bounds: 'data',
    grid: {display: false, drawTicks: false}, border: {display: false},
    afterBuildTicks: s => { s.ticks = logTicks(min, max); },
    ticks: {display: show, autoSkip: false, maxRotation: 0, minRotation: 0, padding: pad, font: tickFont, color: '#000',
      callback: v => has(labels, v) ? fmt(v) : ''}};
}
function linAxis(pos, min, max, step, labels, fmt, pad, rotated) {
  const t = {autoSkip: false, maxRotation: 0, minRotation: 0, padding: pad, font: tickFont, color: '#000', includeBounds: false,
    callback: v => has(labels, v) ? fmt(v) : ''};
  if (rotated) {
    const c = document.createElement('canvas').getContext('2d');
    c.font = '13px ' + FONT;
    const widest = Math.max(...labels.map(l => c.measureText(fmt(l)).width));
    Object.assign(t, {minRotation: 90, maxRotation: 90, crossAlign: 'center', padding: pad - widest / 2});
  }
  return {type: 'linear', position: pos, min, max, bounds: 'data',
    grid: {display: false, drawTicks: false}, border: {display: false},
    afterBuildTicks: s => { s.ticks = linTicks(min, max, step, labels); },
    ticks: t};
}

function makeChart(box, pad, x, y, datasets) {
  const cv = document.createElement('canvas');
  cv.width = box.r - box.l + pad.l + pad.r;
  cv.height = box.b - box.t + pad.t + pad.b;
  cv.style.left = (box.l - pad.l) + 'px';
  cv.style.top = (box.t - pad.t) + 'px';
  document.body.appendChild(cv);
  x.afterFit = s => { s.height = pad.b; };
  y.afterFit = s => { s.width = pad.l; };
  return new Chart(cv, {
    type: 'line',
    data: {datasets},
    options: {
      responsive: false, animation: false, events: [],
      layout: {padding: {left: 0, top: pad.t, right: pad.r, bottom: 0}},
      plugins: {legend: {display: false}, tooltip: {enabled: false}},
      scales: {x, y}
    },
    plugins: [frame]
  });
}

function label(html, x, y, size, rot) {
  const d = document.createElement('div');
  d.className = 'lbl';
  d.innerHTML = html;
  d.style.left = x + 'px';
  d.style.top = y + 'px';
  d.style.fontSize = size + 'px';
  d.style.transform = 'translate(-50%,-50%)' + (rot ? ' rotate(-90deg)' : '');
  document.body.appendChild(d);
}

const padSpec = {l: 70, t: 18, r: 14, b: 18};
const padRes = {l: 70, t: 18, r: 14, b: 40};
const padCon = {l: 42, t: 18, r: 12, b: 40};
const zero = (a, b) => [[a, 0], [b, 0]];

// ---------- row 1: XMM + NuSTAR ----------
makeChart({l: 92, t: 35, r: 543, b: 244}, padSpec,
  logAxis('bottom', 0.3, 80, specTopX, fmtNum, false, 4),
  logAxis('left', 1e-7, 0.078, spec1Y, fmtPow, true, 7),
  [errs(x12Green, GREEN), errs(x12Red, RED), errs(x12Black, BLACK), errs(nuBlue, BLUE), errs(nuCyan, CYAN),
   hist(x12GreenModel, GREEN), hist(x12RedModel, RED), hist(x12BlackModel, BLACK), hist(nuCyanModel, CYAN), hist(nuBlueModel, BLUE),
   dots(x12GreenComp1, GREEN), dots(x12GreenComp2, GREEN), dots(x12GreenComp3, GREEN),
   dots(x12BlackMain, BLACK, 4.5), dots(x12RedMain, RED, 4.5, 3),
   dots(x12CompHot, BLACK, 4.5), dots(x12CompHot, RED, 4.5, 3), dots(x12CompCool, BLACK, 4.5), dots(x12CompCool, RED, 4.5, 3),
   dots(nuCompA, BLUE, 4.5), dots(nuCompA, CYAN, 4.5, 3), dots(nuCompB, BLUE, 4.5), dots(nuCompB, CYAN, 4.5, 3)]);
makeChart({l: 92, t: 244, r: 543, b: 370}, padRes,
  logAxis('bottom', 0.3, 80, specTopX, fmtNum, true, 4),
  linAxis('left', -4.57, 6.2, 2.5, res1Y, fmtRes, 7, false),
  [ds(curve(zero(0.3, 80)), GREEN, {borderWidth: 1.5}),
   hist(r12Green, GREEN), hist(r12Red, RED), hist(r12Black, BLACK), hist(rNuBlue, BLUE), hist(rNuCyan, CYAN)]);

makeChart({l: 623, t: 34, r: 1068, b: 368}, padCon,
  linAxis('bottom', 0.277, 1.2715, 0.05, c1XLabels, fmtNum, 4, false),
  linAxis('left', 9.18, 40.73, 2, c1YLabels, fmtNum, 13, true),
  [mark(c1Best), ring(c1Black, BLACK), ring(c1Red, RED), ring(c1Green, GREEN)]);

// ---------- row 2: XMM Nov 2012 ----------
makeChart({l: 89, t: 447, r: 529, b: 651}, padSpec,
  logAxis('bottom', 0.3, 10, specX, fmtNum, false, 4),
  logAxis('left', 1e-4, 0.0713, spec23Y, fmtPow, true, 7),
  [errs(x12Green, GREEN), errs(x12Red, RED), errs(x12Black, BLACK),
   hist(x12GreenModel, GREEN), hist(x12RedModel, RED), hist(x12BlackModel, BLACK),
   dots(x12GreenComp1, GREEN), dots(x12GreenComp2, GREEN), dots(x12GreenComp3, GREEN),
   dots(x12BlackMain, BLACK, 4.5), dots(x12RedMain, RED, 4.5, 3),
   dots(x12CompHot, BLACK, 4.5), dots(x12CompHot, RED, 4.5, 3), dots(x12CompCool, BLACK, 4.5), dots(x12CompCool, RED, 4.5, 3)]);
makeChart({l: 89, t: 651, r: 529, b: 773}, padRes,
  logAxis('bottom', 0.3, 10, specX, fmtNum, true, 4),
  linAxis('left', -3.35, 5.16, 1, res2Y, fmtRes, 7, false),
  [ds(curve(zero(0.3, 10)), GREEN, {borderWidth: 1.5}), hist(r12Green, GREEN), hist(r12Red, RED), hist(r12Black, BLACK)]);

makeChart({l: 621, t: 447, r: 1063, b: 776}, padCon,
  linAxis('bottom', 0.2994, 1.221, 0.05, c2XLabels, fmtNum, 4, false),
  linAxis('left', 1.765e-4, 3.337e-4, 1e-5, c2YLabels, fmtNorm, 13, true),
  [mark(c2Best), ring(c2Black, BLACK), ring(c2Red, RED), ring(c2Green, GREEN)]);

// ---------- row 3: XMM Nov 2013 ----------
makeChart({l: 89, t: 852, r: 529, b: 1055}, padSpec,
  logAxis('bottom', 0.3, 10, specX, fmtNum, false, 4),
  logAxis('left', 1e-4, 0.0687, spec23Y, fmtPow, true, 7),
  [errs(x13Green, GREEN), errs(x13Red, RED), errs(x13Black, BLACK),
   hist(x13GreenModel, GREEN), hist(x13RedModel, RED), hist(x13BlackModel, BLACK),
   dots(x13GreenComp1, GREEN), dots(x13GreenComp2, GREEN), dots(x13GreenComp3, GREEN),
   dots(x13BlackMain, BLACK, 4.5), dots(x13RedMain, RED, 4.5, 3),
   dots(x13CompHot, BLACK, 4.5), dots(x13CompHot, RED, 4.5, 3), dots(x13CompCool, BLACK, 4.5), dots(x13CompCool, RED, 4.5, 3)]);
makeChart({l: 89, t: 1055, r: 529, b: 1177}, padRes,
  logAxis('bottom', 0.3, 10, specX, fmtNum, true, 4),
  linAxis('left', -10.4, 8.14, 2.5, res3Y, fmtRes, 7, false),
  [ds(curve(zero(0.3, 10)), GREEN, {borderWidth: 1.5}), hist(r13Green, GREEN), hist(r13Red, RED), hist(r13Black, BLACK)]);

makeChart({l: 622, t: 852, r: 1068, b: 1185}, padCon,
  linAxis('bottom', 0.1435, 0.416, 0.01, c3XLabels, fmtNum, 4, false),
  linAxis('left', 0.8888e-4, 1.4121e-4, 1e-5, c3YLabels, fmtNorm, 13, true),
  [mark(c3Best), ring(c3Black, BLACK), ring(c3Red, RED), ring(c3Green, GREEN)]);

// ---------- titles and axis names ----------
label('Oct\u2212Nov 2012 XMM+NuSTAR spectra of SN 2010jl', 314, 8, 13.6);
label('68%, 90% and 99% contours for N<sub>H</sub> &amp; kT for NuSTAR+XMM data', 844, 8, 13.6);
label('Nov 2012 XMM spectra of SN 2010jl', 308, 421, 13.6);
label('68%, 90% and 99% contours for N<sub>H</sub>&nbsp; for Nov 2012XMM data', 842, 420, 13.6);
label('Nov 2013 XMM spectra of SN 2010jl', 277, 827, 13.6);
label('68%, 90% and 99% contour plots for N<sub>H</sub> for Nov 2013 XMM data', 845, 826, 13.6);

const normCounts = 'norm. counts s<sup>\u22121</sup> keV<sup>\u22121</sup>';
label(normCounts, 25, 115, 19.5, true);
label(normCounts, 21, 523, 19.5, true);
label(normCounts, 21, 928, 19.5, true);
label('sign(data\u2212model)', 21, 313, 17, true);
label('sign(data\u2212model)', 19, 722, 17, true);
label('sign(data\u2212model)', 19, 1124, 17, true);
label('Energy (keV)', 329, 395, 17);
label('Energy (keV)', 321, 798, 17);
label('Energy (keV)', 321, 1203, 17);

const nhTitle = 'N<sub>H</sub> (10<sup>22</sup> cm<sup>\u22122</sup>)';
label('kT (keV)', 585, 228, 19, true);
label('Normalization', 582, 606, 19, true);
label('Normalization', 582, 1013, 19, true);
label(nhTitle, 820, 800, 18.5);
label(nhTitle, 822, 1209, 18.5);
</script>
</body>
</html>
